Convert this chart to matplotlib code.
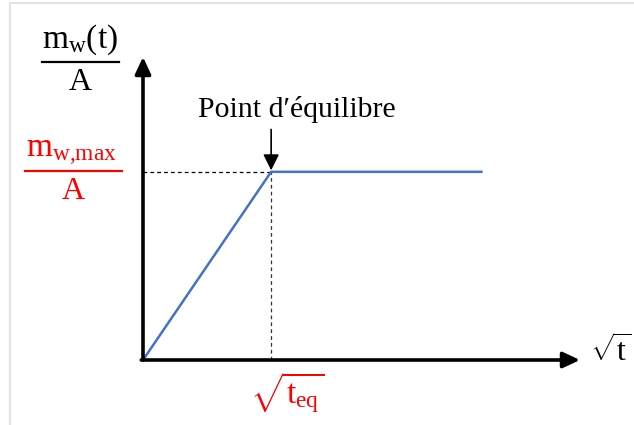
import matplotlib
matplotlib.use('Agg')
import matplotlib.pyplot as plt
from matplotlib.lines import Line2D

# ---- data (schematic) ----
sqrt_t = [0.0, 1.0, 2.64]      # sqrt(t) positions of the curve
m_ratio = [0.0, 1.0, 1.0]      # m_w(t)/A values
x_eq = 1.0                     # sqrt(t_eq)
y_max = 1.0                    # m_w,max / A
x_axis_max = 3.41
y_axis_max = 1.61

label_eq = "Point d\u2032\u00e9quilibre"
label_x = r"$\sqrt{\mathrm{t}}$"
label_xeq = r"$\sqrt{\mathrm{t_{eq}}}$"
label_y_num = r"$\mathrm{m_w(t)}$"
label_ymax_num = r"$\mathrm{m_{w{,}max}}$"
label_den = "A"

FONT = 'Liberation Serif'
plt.rcParams['font.family'] = [FONT, 'DejaVu Serif']
plt.rcParams['mathtext.fontset'] = 'custom'
plt.rcParams['mathtext.rm'] = FONT
plt.rcParams['mathtext.it'] = FONT
plt.rcParams['mathtext.bf'] = FONT

W, H = 634, 425
fig = plt.figure(figsize=(W / 100, H / 100), dpi=100)
fig.patch.set_facecolor('white')

def fp(x, y):
    return (x / W, 1 - y / H)

# light frame
fig.add_artist(Line2D([10 / W, 10 / W, 1.0], [0.0, 1 - 3 / H, 1 - 3 / H],
                      transform=fig.transFigure, color='#e2e2e2', lw=1.5))

ox, oy = 143, 360
ax = fig.add_axes([ox / W, (H - oy) / H, (580 - ox) / W, (oy - 57) / H])
ax.set_xlim(0, x_axis_max)
ax.set_ylim(0, y_axis_max)
ax.axis('off')

# axes arrows
arrow_kw = dict(arrowstyle='-|>,head_length=0.6,head_width=0.28', lw=2.6,
                color='black', shrinkA=0, shrinkB=0, mutation_scale=17)
ax.annotate('', xy=(1, 0), xytext=(-0.004, 0), xycoords='axes fraction',
            arrowprops=arrow_kw, annotation_clip=False)
ax.annotate('', xy=(0, 1), xytext=(0, 0), xycoords='axes fraction',
            arrowprops=arrow_kw, annotation_clip=False)

# dashed guides
ax.plot([0, x_eq], [y_max, y_max], color='black', lw=0.9, dashes=(3, 2.5))
ax.plot([x_eq, x_eq], [0, y_max], color='#333333', lw=0.9, dashes=(3, 2.5))

# curve
ax.plot(sqrt_t, m_ratio, color='#4472C4', lw=1.8, solid_joinstyle='miter')

# equilibrium pointer
ax.annotate('', xy=(x_eq, y_max + 0.008), xytext=(x_eq, y_max + 0.225),
            arrowprops=dict(arrowstyle='-|>,head_length=0.6,head_width=0.3',
                            lw=1.2, color='black', shrinkA=0, shrinkB=0,
                            mutation_scale=16))
fig.text(*fp(297, 117), label_eq, ha='center', va='baseline', fontsize=21.5)

# y label (black fraction)
fig.text(*fp(80, 48), label_y_num, ha='center', va='baseline', fontsize=24)
fig.add_artist(Line2D([42 / W, 119 / W], [1 - 62 / H] * 2,
                      transform=fig.transFigure, color='black', lw=1.6))
fig.text(*fp(80.5, 90), label_den, ha='center', va='baseline', fontsize=23)

# y max label (red fraction)
fig.text(*fp(71, 157), label_ymax_num, ha='center', va='baseline', fontsize=24, color='red')
fig.add_artist(Line2D([25 / W, 122 / W], [1 - 171 / H] * 2,
                      transform=fig.transFigure, color='red', lw=1.6))
fig.text(*fp(73, 199), label_den, ha='center', va='baseline', fontsize=23, color='red')

# x labels
fig.text(*fp(287, 403), label_xeq, ha='center', va='baseline', fontsize=24, color='red')
fig.text(*fp(611, 362), label_x, ha='center', va='baseline', fontsize=23)

fig.savefig('out.png', dpi=100, facecolor='white')
